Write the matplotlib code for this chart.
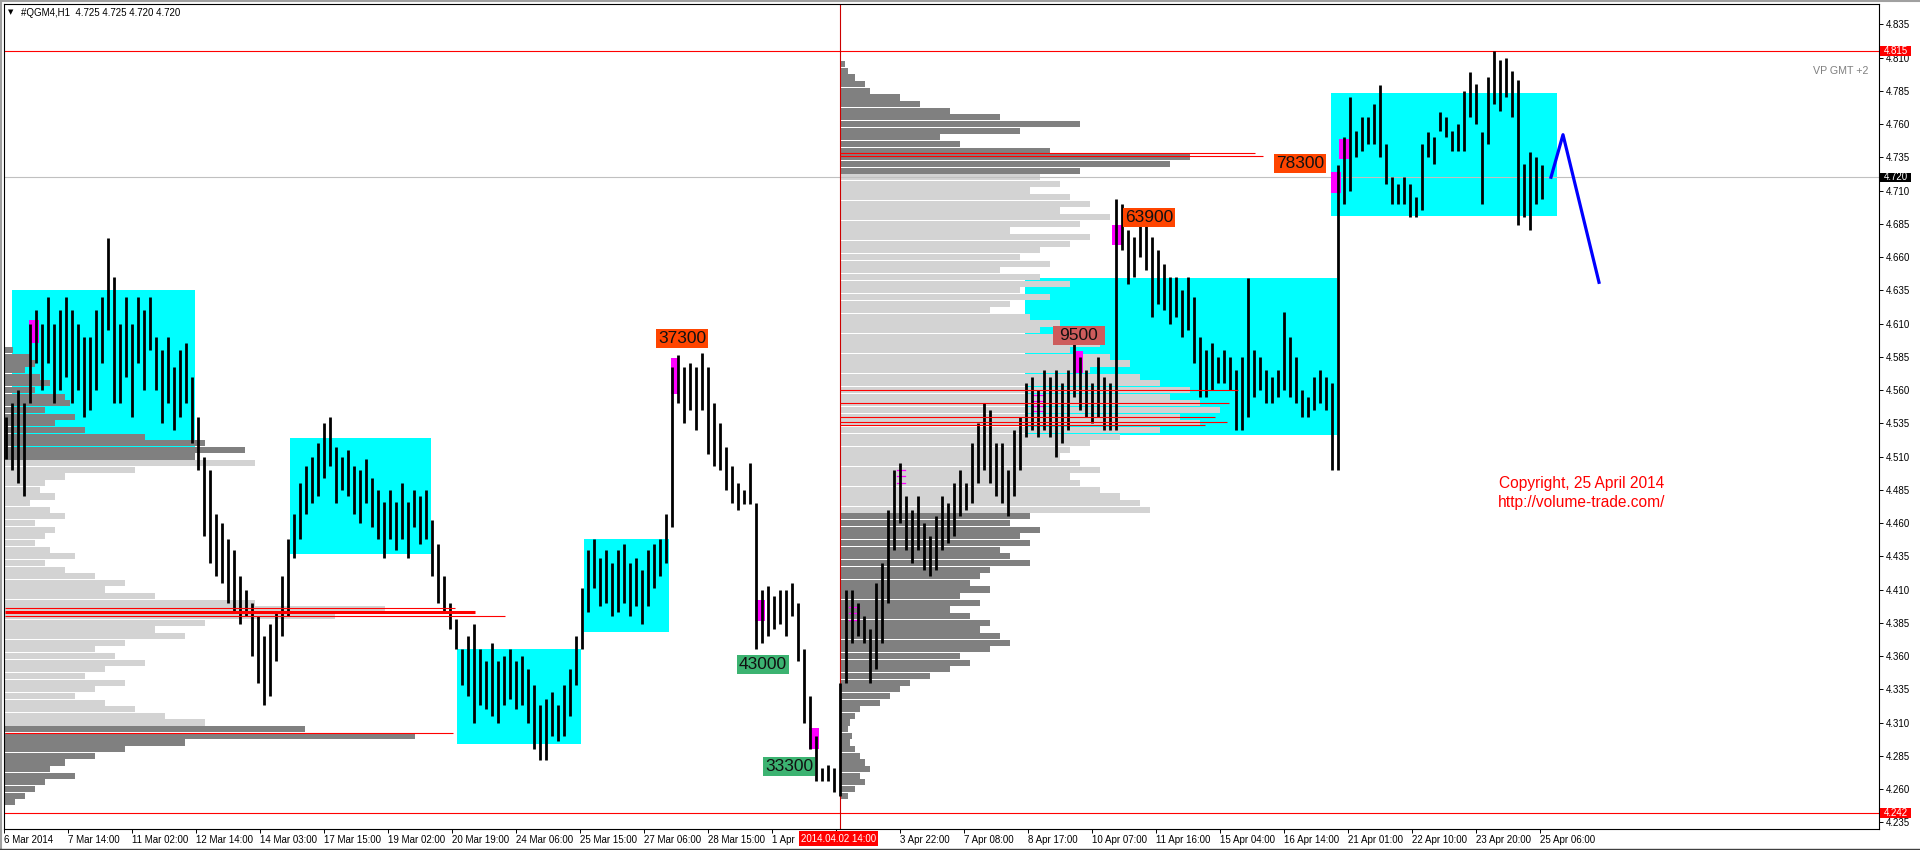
import matplotlib
matplotlib.use("Agg")
import matplotlib.pyplot as plt
import matplotlib.transforms as mtransforms
from matplotlib.patches import Rectangle
from matplotlib.lines import Line2D

plt.rcParams['font.family'] = ['Liberation Sans', 'DejaVu Sans']

# ---------------- data ----------------
symbol_text = "#QGM4,H1  4.725 4.725 4.720 4.720"
bar_step = 3          # each sample below stands for 3 hourly bars

highs = [
    4.540, 4.550, 4.560, 4.550, 4.610, 4.620, 4.610, 4.630, 4.610, 4.620,
    4.630, 4.620, 4.610, 4.600, 4.600, 4.620, 4.630, 4.674, 4.645, 4.610,
    4.630, 4.610, 4.630, 4.620, 4.630, 4.600, 4.590, 4.600, 4.577, 4.590,
    4.595, 4.570, 4.540, 4.510, 4.500, 4.467, 4.460, 4.448, 4.440, 4.420,
    4.410, 4.400, 4.390, 4.375, 4.384, 4.393, 4.420, 4.448, 4.467, 4.490,
    4.503, 4.510, 4.520, 4.535, 4.540, 4.517, 4.510, 4.515, 4.503, 4.500,
    4.508, 4.494, 4.485, 4.476, 4.485, 4.476, 4.490, 4.476, 4.485, 4.480,
    4.485, 4.462, 4.444, 4.420, 4.400, 4.388, 4.365, 4.375, 4.384, 4.365,
    4.356, 4.370, 4.356, 4.360, 4.365, 4.356, 4.360, 4.350, 4.338, 4.323,
    4.328, 4.333, 4.323, 4.338, 4.350, 4.375, 4.411, 4.440, 4.448, 4.434,
    4.440, 4.430, 4.440, 4.444, 4.430, 4.434, 4.425, 4.440, 4.444, 4.448,
    4.467, 4.577, 4.586, 4.577, 4.580, 4.577, 4.588, 4.577, 4.550, 4.535,
    4.517, 4.503, 4.490, 4.485, 4.505, 4.475, 4.410, 4.413, 4.405, 4.410,
    4.410, 4.415, 4.400, 4.365, 4.330, 4.300, 4.276, 4.278, 4.276, 4.340,
    4.410, 4.410, 4.400, 4.390, 4.380, 4.415, 4.430, 4.470, 4.500, 4.505,
    4.480, 4.470, 4.480, 4.460, 4.450, 4.465, 4.480, 4.475, 4.490, 4.500,
    4.490, 4.520, 4.535, 4.550, 4.545, 4.520, 4.520, 4.500, 4.530, 4.540,
    4.565, 4.570, 4.560, 4.575, 4.570, 4.575, 4.565, 4.575, 4.595, 4.585,
    4.575, 4.565, 4.585, 4.570, 4.565, 4.704, 4.700, 4.680, 4.675, 4.690,
    4.685, 4.675, 4.665, 4.655, 4.645, 4.645, 4.635, 4.645, 4.630, 4.600,
    4.590, 4.595, 4.585, 4.590, 4.585, 4.575, 4.585, 4.644, 4.590, 4.585,
    4.575, 4.570, 4.575, 4.619, 4.600, 4.585, 4.560, 4.555, 4.570, 4.575,
    4.570, 4.565, 4.729, 4.750, 4.780, 4.755, 4.765, 4.765, 4.775, 4.789,
    4.745, 4.720, 4.715, 4.720, 4.715, 4.705, 4.745, 4.754, 4.750, 4.769,
    4.765, 4.755, 4.760, 4.785, 4.799, 4.790, 4.754, 4.795, 4.815, 4.808,
    4.810, 4.800, 4.793, 4.730, 4.739, 4.735, 4.729,
]
lows = [
    4.508, 4.500, 4.490, 4.480, 4.550, 4.580, 4.560, 4.580, 4.550, 4.560,
    4.570, 4.550, 4.560, 4.540, 4.545, 4.560, 4.580, 4.605, 4.550, 4.550,
    4.570, 4.540, 4.580, 4.560, 4.590, 4.560, 4.535, 4.550, 4.530, 4.540,
    4.550, 4.520, 4.500, 4.450, 4.430, 4.420, 4.415, 4.400, 4.393, 4.384,
    4.390, 4.360, 4.340, 4.323, 4.330, 4.356, 4.375, 4.390, 4.434, 4.448,
    4.467, 4.475, 4.480, 4.494, 4.503, 4.475, 4.485, 4.480, 4.467, 4.460,
    4.475, 4.457, 4.448, 4.434, 4.448, 4.440, 4.448, 4.434, 4.457, 4.444,
    4.448, 4.420, 4.400, 4.393, 4.380, 4.365, 4.338, 4.330, 4.310, 4.323,
    4.320, 4.315, 4.310, 4.323, 4.328, 4.320, 4.323, 4.310, 4.290, 4.282,
    4.282, 4.300, 4.296, 4.300, 4.315, 4.338, 4.365, 4.393, 4.411, 4.398,
    4.400, 4.390, 4.393, 4.400, 4.390, 4.398, 4.384, 4.398, 4.411, 4.420,
    4.430, 4.457, 4.550, 4.535, 4.545, 4.530, 4.545, 4.512, 4.503, 4.500,
    4.485, 4.475, 4.470, 4.474, 4.474, 4.365, 4.370, 4.375, 4.380, 4.384,
    4.375, 4.390, 4.356, 4.310, 4.290, 4.266, 4.266, 4.266, 4.258, 4.255,
    4.340, 4.370, 4.375, 4.370, 4.340, 4.350, 4.370, 4.400, 4.440, 4.460,
    4.440, 4.430, 4.440, 4.425, 4.420, 4.425, 4.440, 4.445, 4.450, 4.465,
    4.470, 4.475, 4.490, 4.500, 4.490, 4.480, 4.475, 4.465, 4.480, 4.500,
    4.525, 4.530, 4.525, 4.530, 4.525, 4.510, 4.520, 4.530, 4.555, 4.545,
    4.540, 4.535, 4.540, 4.530, 4.530, 4.530, 4.665, 4.640, 4.645, 4.660,
    4.650, 4.615, 4.625, 4.620, 4.610, 4.615, 4.600, 4.605, 4.580, 4.555,
    4.555, 4.560, 4.565, 4.565, 4.560, 4.530, 4.530, 4.540, 4.555, 4.560,
    4.550, 4.550, 4.555, 4.560, 4.555, 4.550, 4.540, 4.540, 4.545, 4.550,
    4.545, 4.500, 4.500, 4.700, 4.710, 4.735, 4.740, 4.745, 4.745, 4.735,
    4.715, 4.700, 4.700, 4.700, 4.690, 4.690, 4.695, 4.735, 4.730, 4.755,
    4.750, 4.740, 4.740, 4.740, 4.765, 4.760, 4.700, 4.745, 4.775, 4.770,
    4.780, 4.765, 4.684, 4.690, 4.680, 4.700, 4.704,
]

time_labels = ["6 Mar 2014", "7 Mar 14:00", "11 Mar 02:00", "12 Mar 14:00",
               "14 Mar 03:00", "17 Mar 15:00", "19 Mar 02:00", "20 Mar 19:00",
               "24 Mar 06:00", "25 Mar 15:00", "27 Mar 06:00", "28 Mar 15:00",
               "1 Apr", "", "3 Apr 22:00", "7 Apr 08:00",
               "8 Apr 17:00", "10 Apr 07:00", "11 Apr 16:00", "15 Apr 04:00",
               "16 Apr 14:00", "21 Apr 01:00", "22 Apr 10:00", "23 Apr 20:00",
               "25 Apr 06:00"]
bars_per_label = 32

price_ticks = [4.235, 4.260, 4.285, 4.310, 4.335, 4.360, 4.385, 4.410, 4.435,
               4.460, 4.485, 4.510, 4.535, 4.560, 4.585, 4.610, 4.635, 4.660,
               4.685, 4.710, 4.735, 4.760, 4.785, 4.810, 4.835]

high_line, low_line, last_price = 4.815, 4.242, 4.720
marker_bar, marker_label = 417.5, "2014.04.02 14:00"

# volume profiles (length in screen px at each 0.005 level, from top level down)
level_step = 0.005
p1_top, p1_start = 4.590, 0.0
p1_vols = [8, 25, 30, 20, 35, 45, 30, 60, 65, 40,
           70, 50, 80, 140, 200, 240, 190, 250, 130, 60,
           40, 35, 50, 25, 45, 60, 30, 50, 40, 30,
           45, 70, 40, 60, 90, 120, 100, 150, 250, 380,
           330, 200, 150, 180, 120, 90, 110, 140, 100, 80,
           120, 90, 70, 100, 130, 160, 200, 300, 410, 180,
           120, 90, 60, 45, 70, 40, 30, 20, 10]
p1_light_range = (4.31, 4.505)
p2_top, p2_start = 4.805, 417.5
p2_vols = [5, 8, 15, 25, 30, 60, 80, 110, 160, 240,
           180, 100, 120, 210, 350, 330, 240, 200, 220, 190,
           230, 250, 220, 270, 240, 170, 250, 230, 200, 180,
           210, 160, 200, 230, 180, 210, 170, 150, 190, 220,
           200, 240, 260, 230, 270, 290, 250, 300, 320, 350,
           330, 360, 380, 340, 360, 320, 280, 250, 230, 220,
           240, 260, 230, 240, 260, 280, 300, 310, 190, 170,
           200, 180, 190, 160, 170, 190, 150, 140, 130, 150,
           120, 140, 110, 130, 150, 140, 160, 170, 150, 120,
           130, 110, 90, 70, 60, 50, 40, 20, 15, 10,
           8, 12, 10, 15, 20, 25, 30, 20, 25, 15, 8]
p2_light_range = (4.467, 4.724)

# POC lines: (start bar, end bar, price, width)
poc_lines = [(0, 225, 4.396, 0.8), (0, 235, 4.393, 2.2), (0, 250, 4.390, 0.8),
             (0, 224, 4.302, 0.8),
             (417.5, 625, 4.738, 0.8), (417.5, 629, 4.736, 0.8),
             (417.5, 616.5, 4.560, 0.8), (417.5, 612, 4.550, 0.8),
             (417.5, 605, 4.540, 0.8), (417.5, 611, 4.536, 0.8),
             (417.5, 600, 4.534, 0.8)]

# consolidation zones: (bar from, bar to, price low, price high)
zones = [(3.5, 95, 4.507, 4.635), (142.5, 213, 4.437, 4.524),
         (226, 288, 4.294, 4.365), (289.5, 332, 4.378, 4.448),
         (510, 666, 4.526, 4.644), (663, 776, 4.691, 4.783)]

# highlighted bars: (bar from, bar to, price low, price high)
highlights = [(12, 17, 4.595, 4.613), (333, 337, 4.557, 4.584),
              (375, 380, 4.386, 4.402), (402, 407, 4.290, 4.306),
              (534, 539, 4.573, 4.589), (553.5, 558.5, 4.669, 4.684),
              (663, 668, 4.708, 4.724), (667, 672, 4.734, 4.749)]
dash_marks = [(422, 427, 4.397), (422, 427, 4.392), (422, 427, 4.387),
              (446, 450, 4.500), (446, 450, 4.495), (446, 450, 4.490),
              (514, 519, 4.556), (514, 519, 4.552), (514, 519, 4.548),
              (514, 519, 4.544)]

# volume labels
vol_texts = ["37300", "43000", "33300", "9500", "63900", "78300"]
vol_bars = [338.5, 379, 392, 537, 572, 647.5]
vol_prices = [4.599, 4.354, 4.277, 4.601, 4.690, 4.730]
vol_colors = ["#FF4500", "#3CB371", "#3CB371", "#CD5C5C", "#FF4500", "#FF4500"]

forecast_bars = [773, 779, 797]
forecast_prices = [4.720, 4.752, 4.641]

copyright_lines = ["Copyright, 25 April 2014", "http://volume-trade.com/"]

# ---------------- figure ----------------
W, H = 1920, 850
fig = plt.figure(figsize=(W / 100, H / 100), dpi=100)
fig.patch.set_facecolor('white')
ax = fig.add_axes([4 / W, 21 / H, 1875 / W, 825 / H])
ax.set_facecolor('white')
ax.set_xlim(-0.5, 937)
ax.set_ylim(4.22996, 4.85026)

px_per_bar = 2.0

# zones
for x0, x1, p0, p1 in zones:
    ax.add_patch(Rectangle((x0, p0), x1 - x0, p1 - p0, facecolor='#00FFFF',
                           edgecolor='none', zorder=1))

# profiles
def draw_profile(start, top, vols, light_range):
    levels = [round(top - level_step * i, 3) for i in range(len(vols))]
    cols = ['#D3D3D3' if light_range[0] <= p <= light_range[1] else '#808080'
            for p in levels]
    widths = [v / px_per_bar for v in vols]
    ax.barh(levels, widths, left=start, height=0.0046, color=cols,
            linewidth=0, zorder=2)

draw_profile(p1_start, p1_top, p1_vols, p1_light_range)
draw_profile(p2_start, p2_top, p2_vols, p2_light_range)

# horizontal lines
ax.axhline(last_price, color='#C0C0C0', lw=0.8, zorder=2.5)
ax.axhline(high_line, color='#FF0000', lw=0.8, zorder=2.5)
ax.axhline(low_line, color='#FF0000', lw=0.8, zorder=2.5)
ax.axvline(marker_bar, color='#CC0000', lw=0.8, zorder=2.5)

# highlights (behind price bars)
for x0, x1, p0, p1 in highlights:
    ax.add_patch(Rectangle((x0, p0), x1 - x0, p1 - p0, facecolor='#FF00FF',
                           edgecolor='none', zorder=3))
for x0, x1, p in dash_marks:
    ax.plot([x0, x1], [p, p], color='#FF00FF', lw=0.9, zorder=3)

# price bars
xpos = [0.5 + bar_step * k for k in range(len(highs))]
ax.vlines(xpos, lows, highs, color='black', linewidth=2.0, zorder=4)

# POC lines
for x0, x1, p, lw in poc_lines:
    ax.plot([x0, x1], [p, p], color='#FF0000', lw=lw, zorder=4.5,
            solid_capstyle='butt')

# forecast
ax.plot(forecast_bars, forecast_prices, color='#0000FF', lw=2.3, zorder=6)

# volume labels
box_w = 52 / px_per_bar
box_h = 19 / 1330.0
for t, b, p, c in zip(vol_texts, vol_bars, vol_prices, vol_colors):
    ax.add_patch(Rectangle((b - box_w / 2, p - box_h / 2), box_w, box_h,
                           facecolor=c, edgecolor='none', zorder=7))
    ax.text(b, p, t, ha='center', va='center', fontsize=12.5, color='#111111',
            zorder=8)

# copyright
ax.text(788.5, 4.4901, copyright_lines[0], ha='center', va='center',
        fontsize=11.2, color='#FF0000', zorder=8)
ax.text(788.5, 4.4758, copyright_lines[1], ha='center', va='center',
        fontsize=11.2, color='#FF0000', zorder=8)

ax.text((1868 - 4) / 1875, 1 - (71 - 4) / 825, "VP GMT +2", transform=ax.transAxes,
        ha='right', va='center', fontsize=7.7, color='#808080', zorder=8)

# axes styling
for s in ax.spines.values():
    s.set_color('black')
    s.set_linewidth(0.8)
ax.yaxis.tick_right()
ax.set_yticks(price_ticks)
ax.set_yticklabels([f"{p:.3f}" for p in price_ticks])
ax.tick_params(axis='y', which='both', right=True, left=False, direction='out',
               length=3, width=0.7, pad=2, labelsize=7, colors='black')
tick_pos = [bars_per_label * i - 0.5 for i in range(len(time_labels))]
ax.set_xticks(tick_pos)
ax.set_xticklabels(time_labels)
for lbl in ax.get_xticklabels():
    lbl.set_ha('left')
ax.tick_params(axis='x', direction='out', length=3, width=0.7, pad=1.5,
               labelsize=7, colors='black')

# price boxes on right axis
blend_y = mtransforms.blended_transform_factory(ax.transAxes, ax.transData)
bw = 31 / 1875
for p, fc in [(high_line, '#FF0000'), (last_price, '#000000'), (low_line, '#FF0000')]:
    ax.add_patch(Rectangle((1.0005, p - 0.0035), bw, 0.007, transform=blend_y,
                           facecolor=fc, edgecolor='none', clip_on=False, zorder=10))
    ax.text(1.0005 + bw / 2, p, f"{p:.3f}", transform=blend_y, ha='center',
            va='center', fontsize=7, color='white', clip_on=False, zorder=11)

# marker label on time axis
blend_x = mtransforms.blended_transform_factory(ax.transData, ax.transAxes)
ax.add_patch(Rectangle((marker_bar - 20.5, -17 / 825), 39.5, 15 / 825,
                       transform=blend_x, facecolor='#FF0000', edgecolor='none',
                       clip_on=False, zorder=10))
ax.text(marker_bar - 0.75, -9.5 / 825, marker_label, transform=blend_x, ha='center',
        va='center', fontsize=7, color='white', clip_on=False, zorder=11)

# symbol header
fig.text(8 / W, 1 - 12.5 / H, "\u25BC", fontsize=5, ha='left', va='center',
         family=['DejaVu Sans'])
fig.text(21 / W, 1 - 12.5 / H, symbol_text, fontsize=7, ha='left', va='center')

# window frame
fig.add_artist(Line2D([0, 1], [1 - 0.5 / H, 1 - 0.5 / H], color='#A0A0A0', lw=1.5))
fig.add_artist(Line2D([0.5 / W, 0.5 / W], [0, 1], color='#A0A0A0', lw=1.5))
fig.add_artist(Line2D([0, 1], [1.5 / H, 1.5 / H], color='#404040', lw=1.0))

fig.savefig("out.png", dpi=100, facecolor='white')
